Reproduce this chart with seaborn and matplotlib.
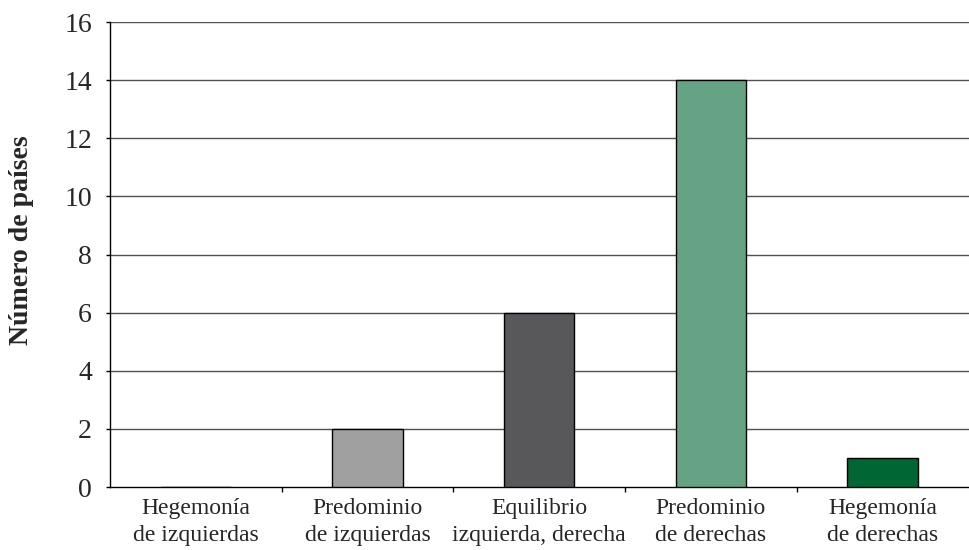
import matplotlib
matplotlib.use("Agg")
import matplotlib.pyplot as plt
from matplotlib.ticker import FixedLocator, NullFormatter
import seaborn as sns
import pandas as pd

categorias = ["Hegemonía\nde izquierdas", "Predominio\nde izquierdas",
              "Equilibrio\nizquierda, derecha", "Predominio\nde derechas",
              "Hegemonía\nde derechas"]
paises = [0, 2, 6, 14, 1]
colores = ["#FFFFFF", "#A0A0A0", "#58585A", "#66A385", "#006633"]
ticks_y = [0, 2, 4, 6, 8, 10, 12, 14, 16]

sns.set_theme(style="white")
plt.rcParams["font.family"] = ["Liberation Serif", "DejaVu Serif"]

df = pd.DataFrame({"categoria": categorias, "paises": paises})

fig = plt.figure(figsize=(9.69, 5.5), dpi=100)
ax = fig.add_axes([0.1135, 0.1145, 0.886, 0.8455])

sns.barplot(data=df, x="categoria", y="paises", hue="categoria",
            palette=colores, saturation=1, width=0.41, edgecolor="black",
            linewidth=1, legend=False, ax=ax, zorder=3)

ax.set_ylim(0, 16)
ax.set_xlim(-0.5, 4.5)
ax.set_yticks(ticks_y)
ax.set_yticklabels([str(t) for t in ticks_y], fontsize=20)
for t in ticks_y[1:]:
    ax.axhline(t, color="#505050", lw=1, zorder=1)

ax.set_xticks(range(len(categorias)))
ax.set_xticklabels(categorias, fontsize=17, linespacing=1.35)
ax.tick_params(axis="x", which="major", length=0, pad=8)
ax.xaxis.set_minor_locator(FixedLocator([0.5, 1.5, 2.5, 3.5]))
ax.xaxis.set_minor_formatter(NullFormatter())
ax.tick_params(axis="x", which="minor", length=3.5, width=1, color="black", direction="out", bottom=True)
ax.tick_params(axis="y", length=3, width=1, color="black", direction="out", left=True, pad=10)

for side in ["top", "right"]:
    ax.spines[side].set_visible(False)
for side in ["left", "bottom"]:
    ax.spines[side].set_color("black")
    ax.spines[side].set_linewidth(1)

ax.set_xlabel("")
ax.set_ylabel("Número de países", fontsize=20, fontweight="bold")
ax.yaxis.set_label_coords(-0.088, 0.531)

fig.savefig("out.png", dpi=100, facecolor="white")
